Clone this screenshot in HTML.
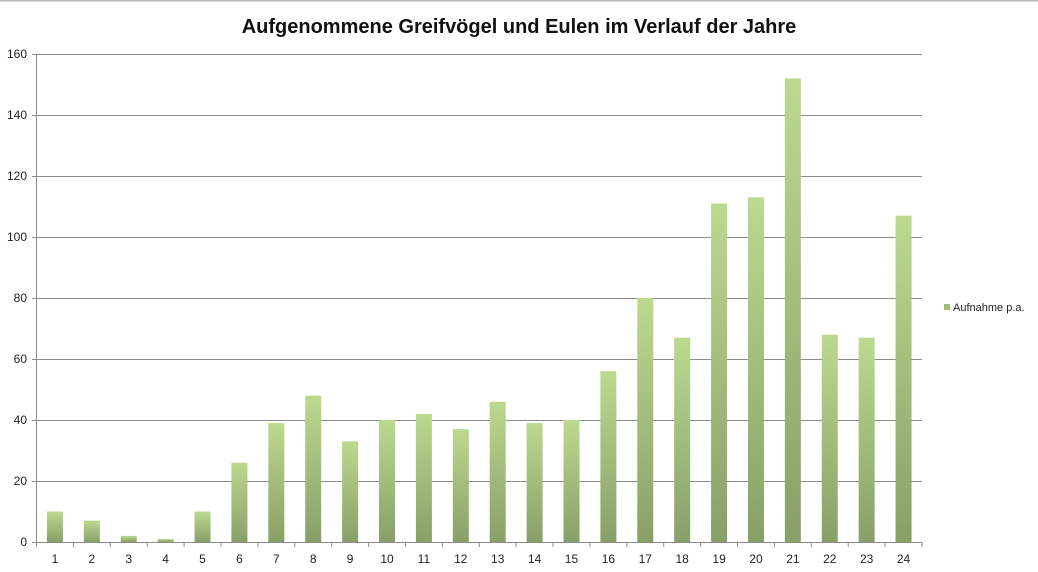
<!DOCTYPE html>
<html><head><meta charset="utf-8"><style>
html,body{margin:0;padding:0;background:#fff;}
svg{display:block;font-family:"Liberation Sans",Arial,sans-serif;}
</style></head><body>
<svg width="1038" height="572" viewBox="0 0 1038 572" xmlns="http://www.w3.org/2000/svg">
<defs>
<linearGradient id="g" x1="0" y1="0" x2="0" y2="1">
<stop offset="0" stop-color="#bcd98f"/>
<stop offset="1" stop-color="#88a068"/>
</linearGradient>
</defs>
<rect x="0" y="0" width="1038" height="1.5" fill="#bbb"/>
<text x="519" y="33" text-anchor="middle" font-size="20" font-weight="bold" fill="#111">Aufgenommene Greifvögel und Eulen im Verlauf der Jahre</text>
<g stroke="#8c8c8c" stroke-width="1">
<line x1="32" y1="54.5" x2="922" y2="54.5"/>
<line x1="32" y1="115.5" x2="922" y2="115.5"/>
<line x1="32" y1="176.5" x2="922" y2="176.5"/>
<line x1="32" y1="237.5" x2="922" y2="237.5"/>
<line x1="32" y1="298.5" x2="922" y2="298.5"/>
<line x1="32" y1="359.5" x2="922" y2="359.5"/>
<line x1="32" y1="420.5" x2="922" y2="420.5"/>
<line x1="32" y1="481.5" x2="922" y2="481.5"/>
<line x1="36.5" y1="54" x2="36.5" y2="547"/>
</g>
<g font-size="12" fill="#222" text-anchor="end">
<text x="27" y="58">160</text><text x="27" y="119">140</text><text x="27" y="180">120</text><text x="27" y="241">100</text>
<text x="27" y="302">80</text><text x="27" y="363">60</text><text x="27" y="424">40</text><text x="27" y="485">20</text><text x="27" y="546">0</text>
</g>
<g fill="url(#g)">
<rect x="46.95" y="511.5" width="16" height="30.5"/>
<rect x="83.84" y="520.65" width="16" height="21.35"/>
<rect x="120.74" y="535.9" width="16" height="6.1"/>
<rect x="157.64" y="538.95" width="16" height="3.05"/>
<rect x="194.53" y="511.5" width="16" height="30.5"/>
<rect x="231.43" y="462.7" width="16" height="79.3"/>
<rect x="268.32" y="423.05" width="16" height="118.95"/>
<rect x="305.22" y="395.6" width="16" height="146.4"/>
<rect x="342.12" y="441.35" width="16" height="100.65"/>
<rect x="379.01" y="420" width="16" height="122"/>
<rect x="415.91" y="413.9" width="16" height="128.1"/>
<rect x="452.8" y="429.15" width="16" height="112.85"/>
<rect x="489.7" y="401.7" width="16" height="140.3"/>
<rect x="526.6" y="423.05" width="16" height="118.95"/>
<rect x="563.49" y="420" width="16" height="122"/>
<rect x="600.39" y="371.2" width="16" height="170.8"/>
<rect x="637.28" y="298" width="16" height="244"/>
<rect x="674.18" y="337.65" width="16" height="204.35"/>
<rect x="711.08" y="203.45" width="16" height="338.55"/>
<rect x="747.97" y="197.35" width="16" height="344.65"/>
<rect x="784.87" y="78.4" width="16" height="463.6"/>
<rect x="821.76" y="334.6" width="16" height="207.4"/>
<rect x="858.66" y="337.65" width="16" height="204.35"/>
<rect x="895.56" y="215.65" width="16" height="326.35"/>
</g>
<line x1="32" y1="542.5" x2="922" y2="542.5" stroke="#8c8c8c"/>
<path stroke="#8c8c8c" fill="none" d="M73.4 542V547M110.3 542V547M147.2 542V547M184.1 542V547M221 542V547M257.9 542V547M294.8 542V547M331.7 542V547M368.6 542V547M405.5 542V547M442.4 542V547M479.3 542V547M516.1 542V547M553 542V547M589.9 542V547M626.8 542V547M663.7 542V547M700.6 542V547M737.5 542V547M774.4 542V547M811.3 542V547M848.2 542V547M885.1 542V547M922 542V547"/>
<g font-size="12" fill="#222" text-anchor="middle">
<text x="54.95" y="563">1</text><text x="91.84" y="563">2</text><text x="128.74" y="563">3</text><text x="165.64" y="563">4</text>
<text x="202.53" y="563">5</text><text x="239.43" y="563">6</text><text x="276.32" y="563">7</text><text x="313.22" y="563">8</text>
<text x="350.12" y="563">9</text><text x="387.01" y="563">10</text><text x="423.91" y="563">11</text><text x="460.8" y="563">12</text>
<text x="497.7" y="563">13</text><text x="534.6" y="563">14</text><text x="571.49" y="563">15</text><text x="608.39" y="563">16</text>
<text x="645.28" y="563">17</text><text x="682.18" y="563">18</text><text x="719.08" y="563">19</text><text x="755.97" y="563">20</text>
<text x="792.87" y="563">21</text><text x="829.76" y="563">22</text><text x="866.66" y="563">23</text><text x="903.56" y="563">24</text>
</g>
<rect x="944" y="304" width="6" height="6" fill="#9fbf78"/>
<text x="953" y="311" font-size="11" fill="#222">Aufnahme p.a.</text>
</svg>
</body></html>
